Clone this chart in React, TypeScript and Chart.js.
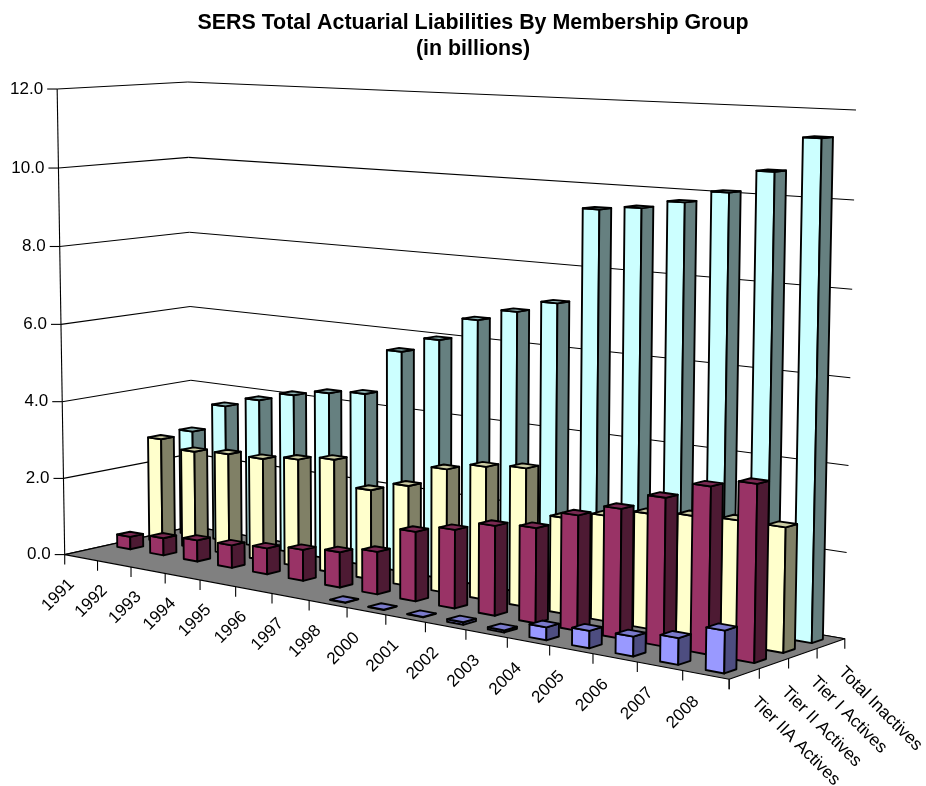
import React, { useEffect, useRef } from "react";
import { Chart, registerables } from "chart.js";

Chart.register(...registerables);

const categories = ["1991","1992","1993","1994","1995","1996","1997","1998","2000","2001","2002","2003","2004","2005","2006","2007","2008"];
const tierIIA = [null,null,null,null,null,null,null,0.01,0.01,0.01,0.06,0.05,0.3,0.4,0.45,0.6,0.95];
const tierII = [0.33,0.45,0.55,0.58,0.66,0.78,0.88,1.05,1.7,1.9,2.15,2.25,2.7,3.0,3.4,3.8,4.0];
const tierI = [2.75,2.55,2.62,2.63,2.75,2.88,2.25,2.5,3.05,3.25,3.35,2.3,2.5,2.7,2.8,2.85,2.85];
const inactives = [2.8,3.6,3.88,4.13,4.3,4.4,5.58,5.98,6.57,6.87,7.17,9.48,9.58,9.78,10.07,10.6,11.4];
const seriesNames = ["Tier IIA Actives","Tier II Actives","Tier I Actives","Total Inactives"];

const FONT = "'Liberation Sans', Arial, sans-serif";
const BAR_FRACTION = 0.4;
const sideColors = ["#4D4D80", "#4D1A33", "#808066", "#668080"];
const topColors = ["#7A7ACC", "#7A2952", "#CCCCA3", "#8FB3B3"];

// Camera calibration: (u, w, h) box corners of the plot -> page pixels.
const calibration: number[][] = [
  [0,0,0,65,554],[1,0,0,729,680],[1,1,0,845,638],[0,1,0,192,527],
  [0,0,1,57,89],[0,1,1,188,82],[1,1,1,856,110],[1,1,10/12,854,200],
];

function solveCamera(): number[] {
  const rows: number[][] = [];
  const rhs: number[] = [];
  for (const [u,w,h,xp,yp] of calibration) {
    const x = xp/1000, y = yp/1000;
    rows.push([u,w,h,1,0,0,0,0,-x*u,-x*w,-x*h]); rhs.push(x);
    rows.push([0,0,0,0,u,w,h,1,-y*u,-y*w,-y*h]); rhs.push(y);
  }
  const n = 11;
  const a: number[][] = [];
  for (let i=0;i<n;i++){
    const r: number[] = [];
    for (let j=0;j<n;j++){ let s=0; rows.forEach(row=>{s+=row[i]*row[j];}); r.push(s); }
    let s=0; rows.forEach((row,k)=>{s+=row[i]*rhs[k];}); r.push(s);
    a.push(r);
  }
  for (let c=0;c<n;c++){
    let p=c; for(let r=c+1;r<n;r++) if(Math.abs(a[r][c])>Math.abs(a[p][c])) p=r;
    [a[c],a[p]]=[a[p],a[c]];
    for(let r=0;r<n;r++){ if(r===c) continue; const f=a[r][c]/a[c][c]; for(let k=c;k<=n;k++) a[r][k]-=f*a[c][k]; }
  }
  return a.map((r,i)=>r[n]/r[i]);
}
const cam = solveCamera();
function project(u:number,w:number,h:number):[number,number]{
  const d = cam[8]*u+cam[9]*w+cam[10]*h+1;
  return [1000*(cam[0]*u+cam[1]*w+cam[2]*h+cam[3])/d, 1000*(cam[4]*u+cam[5]*w+cam[6]*h+cam[7])/d];
}

function poly(ctx:CanvasRenderingContext2D, pts:[number,number][], fill?:string){
  ctx.beginPath();
  pts.forEach((p,i)=> i?ctx.lineTo(p[0],p[1]):ctx.moveTo(p[0],p[1]));
  ctx.closePath();
  if(fill){ctx.fillStyle=fill;ctx.fill();}
  ctx.stroke();
}
function seg(ctx:CanvasRenderingContext2D,a:[number,number],b:[number,number]){
  ctx.beginPath();ctx.moveTo(a[0],a[1]);ctx.lineTo(b[0],b[1]);ctx.stroke();
}

const scene3D = {
  id: "scene3D",
  beforeDatasetsDraw(chart:any){
    const ctx:CanvasRenderingContext2D = chart.ctx;
    const xs = chart.scales.x, ys = chart.scales.y;
    const toU = (px:number)=>(px-xs.left)/(xs.right-xs.left);
    const toH = (v:number)=>(ys.bottom-ys.getPixelForValue(v))/(ys.bottom-ys.top);
    const n = categories.length, m = seriesNames.length;
    ctx.save();
    ctx.lineJoin="round";
    ctx.strokeStyle="#000"; ctx.lineWidth=1.1;
    // walls
    for(const t of ys.ticks){
      const h=toH(t.value);
      seg(ctx,project(0,0,h),project(0,1,h));
      seg(ctx,project(0,1,h),project(1,1,h));
      const a=project(0,0,h);
      seg(ctx,a,[a[0]-10,a[1]]);
      ctx.fillStyle="#000";ctx.font=`17px ${FONT}`;ctx.textAlign="right";ctx.textBaseline="middle";
      ctx.fillText(t.value.toFixed(1),a[0]-14,a[1]);
    }
    seg(ctx,project(0,0,0),project(0,0,1));
    // floor
    poly(ctx,[project(0,0,0),project(1,0,0),project(1,1,0),project(0,1,0)],"#808080");
    // axis ticks and labels
    for(let i=0;i<=n;i++){
      const a=project(i/n,0,0);
      seg(ctx,a,[a[0],a[1]+10]);
    }
    categories.forEach((c,i)=>{
      const a=project(toU(xs.getPixelForValue(i)),0,0);
      ctx.save();ctx.translate(a[0]-9.5,a[1]+24);ctx.rotate(-Math.PI/4);
      ctx.fillStyle="#000";ctx.font=`17px ${FONT}`;ctx.textAlign="right";ctx.textBaseline="middle";
      ctx.fillText(c,0,0);ctx.restore();
    });
    for(let j=0;j<=m;j++){
      const a=project(1,j/m,0);
      seg(ctx,a,[a[0],a[1]+10]);
    }
    seriesNames.forEach((s,j)=>{
      const a=project(1,(j+0.5)/m,0);
      ctx.save();ctx.translate(a[0]+10,a[1]+26);ctx.rotate(Math.PI/4);
      ctx.fillStyle="#000";ctx.font=`17.5px ${FONT}`;ctx.textAlign="left";ctx.textBaseline="middle";
      ctx.fillText(s,0,0);ctx.restore();
    });
    // boxes, back row first, left to right
    ctx.lineWidth=1.9;
    for(let j=m-1;j>=0;j--){
      const ds=chart.data.datasets[j];
      for(let i=0;i<n;i++){
        const v=ds.data[i];
        if(v===null||v===undefined) continue;
        const uc=toU(xs.getPixelForValue(i));
        const du=BAR_FRACTION/n/2;
        const wc=(j+0.5)/m, dw=BAR_FRACTION/m/2;
        const h=toH(v);
        const u0=uc-du,u1=uc+du,w0=wc-dw,w1=wc+dw;
        poly(ctx,[project(u0,w0,0),project(u1,w0,0),project(u1,w0,h),project(u0,w0,h)],ds.backgroundColor);
        poly(ctx,[project(u1,w0,0),project(u1,w1,0),project(u1,w1,h),project(u1,w0,h)],sideColors[j]);
        poly(ctx,[project(u0,w0,h),project(u1,w0,h),project(u1,w1,h),project(u0,w1,h)],topColors[j]);
      }
    }
    ctx.restore();
    return false;
  },
};

export default function App(){
  const ref=useRef<HTMLCanvasElement>(null);
  useEffect(()=>{
    document.body.style.margin="0";
    const chart=new Chart(ref.current!,{
      type:"bar",
      data:{labels:categories,datasets:[
        {label:seriesNames[0],data:tierIIA,backgroundColor:"#9999FF"},
        {label:seriesNames[1],data:tierII,backgroundColor:"#993366"},
        {label:seriesNames[2],data:tierI,backgroundColor:"#FFFFCC"},
        {label:seriesNames[3],data:inactives,backgroundColor:"#CCFFFF"},
      ]} as any,
      options:{
        responsive:false,animation:false,
        layout:{padding:{left:20,top:0}},
        scales:{
          x:{display:false},
          y:{display:false,min:0,max:12,ticks:{stepSize:2}},
        },
        plugins:{
          legend:{display:false},tooltip:{enabled:false},
          title:{display:true,text:["SERS Total Actuarial Liabilities By Membership Group","(in billions)"],color:"#000",font:{family:FONT,size:21.4,weight:"bold",lineHeight:1.22},padding:{top:10,bottom:8}},
        },
      },
      plugins:[scene3D],
    } as any);
    return ()=>chart.destroy();
  },[]);
  return <div style={{width:926,height:786}}><canvas ref={ref} width={926} height={786} style={{display:"block"}}/></div>;
}
